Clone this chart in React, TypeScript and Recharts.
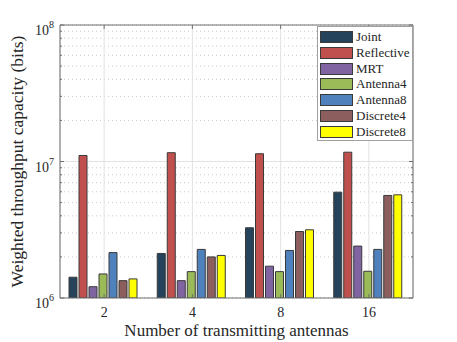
import React from 'react';
import {
  BarChart,
  Bar,
  XAxis,
  YAxis,
  CartesianGrid,
  Legend,
  Label,
} from 'recharts';

const CATEGORIES = ['2', '4', '8', '16'];

const JOINT = [1.42e6, 2.12e6, 3.27e6, 5.96e6];
const REFLECTIVE = [1.107e7, 1.16e7, 1.14e7, 1.17e7];
const MRT = [1.21e6, 1.34e6, 1.71e6, 2.4e6];
const ANTENNA4 = [1.5e6, 1.56e6, 1.56e6, 1.57e6];
const ANTENNA8 = [2.15e6, 2.27e6, 2.23e6, 2.27e6];
const DISCRETE4 = [1.34e6, 2.0e6, 3.07e6, 5.64e6];
const DISCRETE8 = [1.38e6, 2.05e6, 3.16e6, 5.7e6];

const MAJOR_TICKS = [1e6, 1e7, 1e8];
const Y_TICKS = [
  1e6, 2e6, 3e6, 4e6, 5e6, 6e6, 7e6, 8e6, 9e6,
  1e7, 2e7, 3e7, 4e7, 5e7, 6e7, 7e7, 8e7, 9e7,
  1e8,
];

const SERIES = [
  { key: 'joint', name: 'Joint', color: '#25435a', values: JOINT },
  { key: 'reflective', name: 'Reflective', color: '#c0504d', values: REFLECTIVE },
  { key: 'mrt', name: 'MRT', color: '#8064a2', values: MRT },
  { key: 'antenna4', name: 'Antenna4', color: '#9bbb59', values: ANTENNA4 },
  { key: 'antenna8', name: 'Antenna8', color: '#4f81bd', values: ANTENNA8 },
  { key: 'discrete4', name: 'Discrete4', color: '#8c5e5e', values: DISCRETE4 },
  { key: 'discrete8', name: 'Discrete8', color: '#ffff00', values: DISCRETE8 },
];

const data = CATEGORIES.map((cat, i) => {
  const row: Record<string, string | number> = { cat };
  SERIES.forEach((s) => {
    row[s.key] = s.values[i];
  });
  return row;
});

const FONT = '"Liberation Serif", "Times New Roman", serif';
const AXIS = '#6e6e6e';
const TEXT = '#262626';

const isMajor = (v: number) => MAJOR_TICKS.includes(v);

const LeftTick = ({ x, y, payload }: any) => {
  const v = payload.value as number;
  const major = isMajor(v);
  return (
    <g>
      <line x1={x} x2={x + (major ? 4 : 2)} y1={y} y2={y} stroke={AXIS} />
      {major && (
        <text x={x - 6} y={y + 10} textAnchor="end" fontFamily={FONT} fontSize={14} fill={TEXT}>
          10
          <tspan dy={-7} fontSize={10}>
            {Math.round(Math.log10(v))}
          </tspan>
        </text>
      )}
    </g>
  );
};

const RightTick = ({ x, y, payload }: any) => {
  const major = isMajor(payload.value);
  return <line x1={x} x2={x - (major ? 4 : 2)} y1={y} y2={y} stroke={AXIS} />;
};

const BottomTick = ({ x, y, payload }: any) => (
  <g>
    <line x1={x} x2={x} y1={y} y2={y - 4} stroke={AXIS} />
    <text x={x} y={y + 19} textAnchor="middle" fontFamily={FONT} fontSize={14} fill={TEXT}>
      {payload.value}
    </text>
  </g>
);

const TopTick = ({ x, y }: any) => <line x1={x} x2={x} y1={y} y2={y + 4} stroke={AXIS} />;

const renderLegend = () => (
  <div
    style={{
      width: 96,
      height: 115,
      boxSizing: 'border-box',
      border: '1px solid #a0a0a0',
      background: '#fff',
      position: 'relative',
      fontFamily: FONT,
      fontSize: 13,
      color: TEXT,
    }}
  >
    {SERIES.map((s, i) => (
      <div
        key={s.key}
        style={{ position: 'absolute', left: 2, top: 3 + i * 15.8, height: 14, display: 'flex', alignItems: 'center' }}
      >
        <span
          style={{
            display: 'inline-block',
            width: 33,
            height: 12,
            boxSizing: 'border-box',
            background: s.color,
            border: '1px solid #3a3a3a',
          }}
        />
        <span style={{ marginLeft: 3, lineHeight: '14px' }}>{s.name}</span>
      </div>
    ))}
  </div>
);

export default function App() {
  return (
    <div style={{ position: 'absolute', left: 0, top: 0, background: '#fff' }}>
      <BarChart
        width={457}
        height={342}
        data={data}
        margin={{ top: 5, right: 0, bottom: 0, left: 0 }}
        barCategoryGap={9}
        barGap={2}
      >
        <CartesianGrid
          horizontal={(p: any) => (
            <line
              key={`h-${p.index}`}
              x1={p.x1}
              x2={p.x2}
              y1={p.y1}
              y2={p.y2}
              stroke={Y_TICKS[p.index] === 1e7 ? '#e2e2e2' : '#c8c8c8'}
              strokeDasharray={Y_TICKS[p.index] === 1e7 ? undefined : '1 3'}
            />
          )}
          vertical={(p: any) => (
            <line key={`v-${p.index}`} x1={p.x1} x2={p.x2} y1={p.y1} y2={p.y2} stroke="#e2e2e2" />
          )}
        />
        <XAxis
          dataKey="cat"
          height={44}
          tickLine={false}
          tickSize={0}
          tickMargin={0}
          axisLine={{ stroke: AXIS }}
          tick={<BottomTick />}
          interval={0}
        >
          <Label
            content={() => (
              <text x={236.5} y={336} textAnchor="middle" fontFamily={FONT} fontSize={17} fill={TEXT}>
                Number of transmitting antennas
              </text>
            )}
          />
        </XAxis>
        <XAxis
          xAxisId="top"
          dataKey="cat"
          orientation="top"
          height={20}
          tickLine={false}
          tickSize={0}
          tickMargin={0}
          axisLine={{ stroke: AXIS }}
          tick={<TopTick />}
          interval={0}
        />
        <YAxis
          scale="log"
          type="number"
          domain={[1e6, 1e8]}
          allowDataOverflow
          ticks={Y_TICKS}
          interval={0}
          width={60}
          tickLine={false}
          tickSize={0}
          tickMargin={0}
          axisLine={{ stroke: AXIS }}
          tick={<LeftTick />}
        >
          <Label
            content={() => (
              <text
                x={23}
                y={161.5}
                transform="rotate(-90, 23, 161.5)"
                textAnchor="middle"
                fontFamily={FONT}
                fontSize={17.5}
                fill={TEXT}
              >
                Weighted throughput capacity (bits)
              </text>
            )}
          />
        </YAxis>
        <YAxis
          yAxisId="right"
          orientation="right"
          scale="log"
          type="number"
          domain={[1e6, 1e8]}
          allowDataOverflow
          ticks={Y_TICKS}
          interval={0}
          width={44}
          tickLine={false}
          tickSize={0}
          tickMargin={0}
          axisLine={{ stroke: AXIS }}
          tick={<RightTick />}
        />
        <Legend
          layout="horizontal"
          verticalAlign="middle"
          content={renderLegend}
          wrapperStyle={{ left: 317, top: 26, width: 96, height: 115 }}
        />
        {SERIES.map((s) => (
          <Bar
            key={s.key}
            dataKey={s.key}
            name={s.name}
            fill={s.color}
            stroke="#3a3a3a"
            strokeWidth={1}
            isAnimationActive={false}
          />
        ))}
      </BarChart>
    </div>
  );
}
